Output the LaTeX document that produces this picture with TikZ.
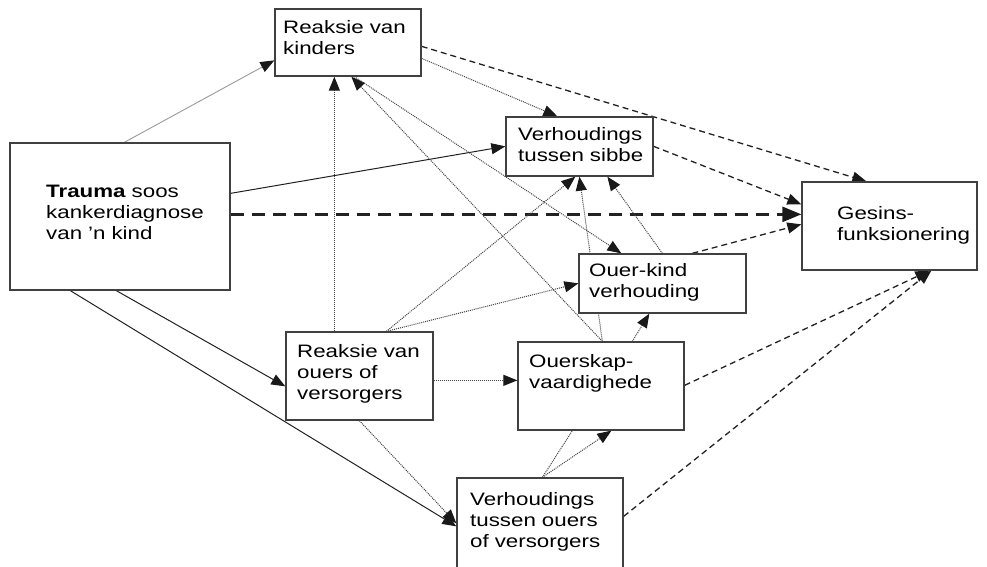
\documentclass[tikz,border=0pt]{standalone}
\usepackage{fontspec}
\setmainfont{Liberation Sans}[FakeStretch=1.24]
\usetikzlibrary{arrows.meta,calc,backgrounds}
\definecolor{boxline}{HTML}{404040}
\definecolor{dotline}{HTML}{444444}
\definecolor{dashline}{HTML}{222222}
\definecolor{lightline}{HTML}{9A9A9A}
\begin{document}
\begin{tikzpicture}[x=1pt,y=-1pt,
  box/.style={draw=boxline, line width=1.3pt, fill=white, inner sep=0pt, rectangle},
  txt/.style={anchor=base west, inner sep=0pt, text width=200pt, align=left, font=\fontsize{18}{21}\selectfont},
  tip/.style={-{Triangle[length=14pt,width=11pt,color=black!90]}},
  solidc/.style={tip, draw=dashline, line width=1pt},
  lightc/.style={tip, draw=lightline, line width=0.9pt},
  dotc/.style={tip, draw=dotline, line width=1pt, dash pattern=on 1pt off 1pt},
  dotplain/.style={draw=dotline, line width=1pt, dash pattern=on 1pt off 1pt},
  dashc/.style={tip, draw=dashline, line width=1.3pt, dash pattern=on 6pt off 4pt},
  bigdash/.style={-{Triangle[length=19pt,width=15pt,color=black!90]}, draw=dashline, line width=2.5pt, dash pattern=on 13pt off 8pt}
]
\useasboundingbox (0,0) rectangle (987,567);

% boxes
\node[box, minimum width=146pt, minimum height=67pt] (kinders) at (348,42.5) {};
\node[box, minimum width=220pt, minimum height=147pt] (trauma) at (120,216.5) {};
\node[box, minimum width=147pt, minimum height=59pt] (sibbe) at (579.5,146.5) {};
\node[box, minimum width=175pt, minimum height=88pt] (gesins) at (889.5,226) {};
\node[box, minimum width=167pt, minimum height=59pt] (ouerkind) at (662.5,283.5) {};
\node[box, minimum width=147pt, minimum height=88pt] (ouers) at (359.5,376) {};
\node[box, minimum width=166pt, minimum height=88pt] (ouerskap) at (601,386) {};
\node[box, minimum width=166pt, minimum height=94pt] (vto) at (540,525) {};

% texts
\node[txt] (kindersT) at (283,34) {Reaksie van\\kinders};
\node[txt] (traumaT) at (46,197) {\textbf{Trauma} soos\\kankerdiagnose\\van 'n kind};
\node[txt] (sibbeT) at (518,140) {Verhoudings\\tussen sibbe};
\node[txt] (gesinsT) at (837,219) {Gesins-\\funksionering};
\node[txt] (ouerkindT) at (589,276) {Ouer-kind\\verhouding};
\node[txt] (ouersT) at (297,357) {Reaksie van\\ouers of\\versorgers};
\node[txt] (ouerskapT) at (529,367) {Ouerskap-\\vaardighede};
\node[txt] (vtoT) at (470,505) {Verhoudings\\tussen ouers\\of versorgers};

\begin{scope}[on background layer]
\fill[white] (0,0) rectangle (987,567);
% solid
\draw[lightc] ($(trauma.north west)+(115,0)$) -- ($(kinders.north west)+(0,52)$);
\draw[solidc] ($(trauma.north east)+(0,51)$) -- ($(sibbe.north west)+(0,30)$);
\draw[solidc] ($(trauma.south west)+(107,0)$) -- ($(ouers.north west)+(0,55)$);
\draw[solidc] ($(trauma.south west)+(61,0)$) -- ($(vto.north west)+(0,49)$);
% big dashed
\draw[bigdash] ($(trauma.north east)+(0,72)$) -- ($(gesins.north west)+(0,33)$);
% dotted
\draw[dotc] ($(kinders.north east)+(0,50)$) -- ($(sibbe.north west)+(52,0)$);
\draw[dotc] ($(ouers.north west)+(49,0)$) -- ($(kinders.south west)+(60,0)$);
\draw[dotc] ($(ouerskap.north west)+(85,0)$) -- ($(kinders.south west)+(77,0)$);
\draw[dotc] ($(kinders.south west)+(80,0)$) -- ($(ouerkind.north west)+(43,0)$);
\draw[dotc] ($(ouers.north west)+(101,0)$) -- ($(sibbe.south west)+(70,0)$);
\draw[dotc] ($(ouers.north west)+(101,0)$) -- ($(ouerkind.north west)+(0,30)$);
\draw[dotc] ($(ouers.north east)+(0,49)$) -- ($(ouerskap.north west)+(0,39)$);
\draw[dotc] ($(ouers.south west)+(74,0)$) -- ($(vto.north west)+(0,46)$);
\draw[dotc] ($(ouerskap.north west)+(85,0)$) -- ($(sibbe.south west)+(74,0)$);
\draw[dotc] ($(ouerkind.north west)+(84,0)$) -- ($(sibbe.south west)+(102,0)$);
\draw[dotc] ($(ouerskap.north west)+(115,0)$) -- ($(ouerkind.south west)+(71,0)$);
\draw[dotc] ($(vto.north west)+(86,0)$) -- ($(ouerskap.south west)+(94,0)$);
\draw[dotplain] ($(vto.north west)+(86,0)$) -- ($(ouerskap.south west)+(55,0)$);
% dashed
\draw[dashc] ($(kinders.north east)+(0,38)$) -- ($(gesins.north west)+(65,0)$);
\draw[dashc] ($(sibbe.north east)+(0,30)$) -- ($(gesins.north west)+(0,23)$);
\draw[dashc] ($(ouerkind.north west)+(114,0)$) -- ($(gesins.north west)+(0,43)$);
\draw[dashc] ($(ouerskap.north east)+(0,44)$) -- ($(gesins.south west)+(128,0)$);
\draw[dashc] ($(vto.north east)+(0,39)$) -- ($(gesins.south west)+(130,0)$);
\end{scope}
\end{tikzpicture}
\end{document}
